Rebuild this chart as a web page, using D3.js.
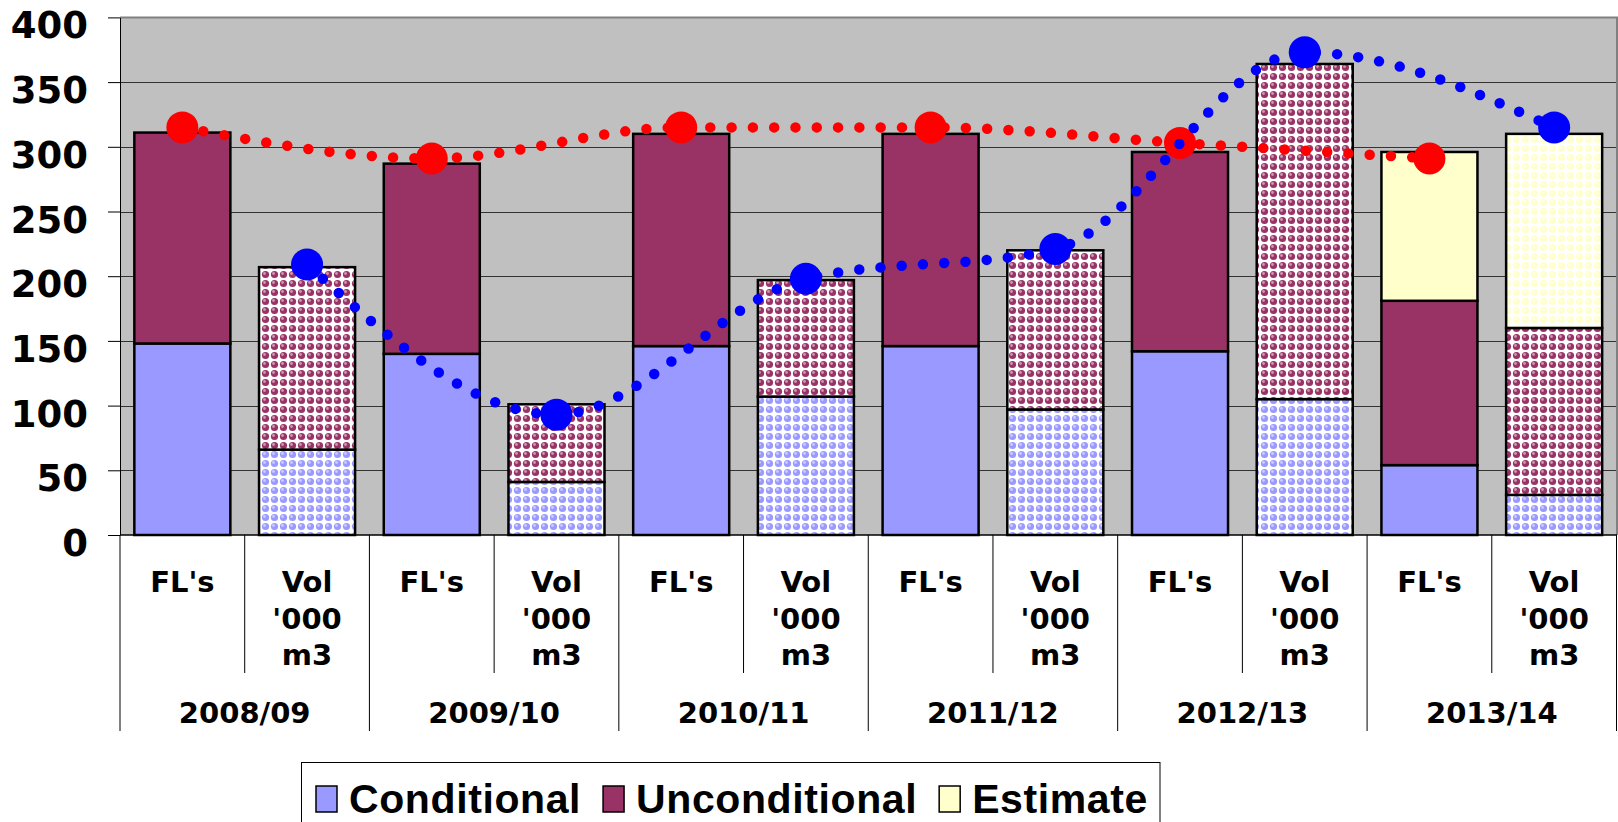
<!DOCTYPE html>
<html>
<head>
<meta charset="utf-8">
<script src="https://cdn.jsdelivr.net/npm/d3@7"></script>
<style>
  body { margin: 0; background: #fff; }
  svg { display: block; }
</style>
</head>
<body>
<div id="chart"></div>
<script>
// data
var years = ["2008/09", "2009/10", "2010/11", "2011/12", "2012/13", "2013/14"];
var measureLabels = [["FL's"], ["Vol", "'000", "m3"]];
var conditional   = [148, 66, 140, 41, 146, 107, 146, 97, 142, 105, 54, 31];
var unconditional = [163, 141, 147, 60, 164, 90, 164, 123, 154, 259, 127, 129];
var estimate      = [0, 0, 0, 0, 0, 0, 0, 0, 0, 0, 115, 150];
var flsLine = [315, 291, 315, 315, 303, 291];
var volLine = [209, 93, 198, 221, 373, 315];
var yTicks = [0, 50, 100, 150, 200, 250, 300, 350, 400];
var seriesNames = ["Conditional", "Unconditional", "Estimate"];
var seriesColors = ["#9999FF", "#993366", "#FFFFCC"];

var width = 1618;
var height = 822;
var plot = {left: 120, right: 1617, top: 17.4, bottom: 535};

var svg = d3.select("#chart")
    .append("svg")
    .attr("width", width)
    .attr("height", height);

var defs = svg.append("defs");

// spotted pattern used for the volume bars
function makePattern(id, color) {
  var p = defs.append("pattern")
      .attr("id", id)
      .attr("patternUnits", "userSpaceOnUse")
      .attr("width", 9)
      .attr("height", 9);
  p.append("rect").attr("width", 9).attr("height", 9).attr("fill", "#fff");
  p.append("circle").attr("cx", 4.5).attr("cy", 4.5).attr("r", 3.6).attr("fill", color);
  p.append("circle").attr("cx", 3.5).attr("cy", 3.5).attr("r", 1.4)
      .attr("fill", d3.interpolateRgb(color, "#fff")(0.5));
}
seriesColors.forEach(function(c, i) { makePattern("pat" + i, c); });

// one row per bar
var rows = conditional.map(function(d, i) {
  return {idx: i, Conditional: d, Unconditional: unconditional[i], Estimate: estimate[i]};
});

var x = d3.scaleBand()
    .domain(d3.range(rows.length))
    .range([plot.left, 1616.5])
    .paddingInner(0.23)
    .paddingOuter(0.115);

var y = d3.scaleLinear()
    .domain([0, 400])
    .range([plot.bottom, plot.top]);

// plot background
svg.append("rect")
    .attr("x", plot.left)
    .attr("y", plot.top)
    .attr("width", plot.right - plot.left)
    .attr("height", plot.bottom - plot.top)
    .attr("fill", "#C0C0C0");

// gridlines
svg.append("g")
  .selectAll("line")
  .data(yTicks.filter(function(t) { return t > 0 && t < 400; }))
  .enter().append("line")
    .attr("x1", plot.left)
    .attr("x2", plot.right)
    .attr("y1", function(d) { return Math.round(y(d)) + 0.5; })
    .attr("y2", function(d) { return Math.round(y(d)) + 0.5; })
    .attr("stroke", "#333")
    .attr("stroke-width", 1);

// plot border top / right
svg.append("path")
    .attr("d", "M" + plot.left + "," + plot.top + "H" + plot.right + "V" + plot.bottom)
    .attr("fill", "none")
    .attr("stroke", "#808080")
    .attr("stroke-width", 2);

// stacked bars
var stack = d3.stack().keys(seriesNames);
var series = stack(rows);

var serie = svg.append("g").selectAll(".serie")
  .data(series)
  .enter().append("g")
    .attr("class", "serie");

serie.selectAll("rect")
  .data(function(d, si) { return d.map(function(p) { p.si = si; return p; }); })
  .enter().filter(function(d) { return d[1] - d[0] > 0; })
  .append("rect")
    .attr("x", function(d) { return x(d.data.idx); })
    .attr("y", function(d) { return y(d[1]); })
    .attr("width", x.bandwidth())
    .attr("height", function(d) { return y(d[0]) - y(d[1]); })
    .attr("fill", function(d) {
      return d.data.idx % 2 === 1 ? "url(#pat" + d.si + ")" : seriesColors[d.si];
    })
    .attr("stroke", "#000")
    .attr("stroke-width", 2.5);

// y axis
var yAxis = svg.append("g")
    .attr("transform", "translate(" + plot.left + ",0)")
    .call(d3.axisLeft(y).tickValues(yTicks).tickSize(12).tickSizeOuter(0).tickPadding(20));
yAxis.select(".domain").attr("stroke", "#000");
yAxis.selectAll(".tick line").attr("stroke", "#000");
yAxis.selectAll(".tick text")
    .attr("dy", 20.5)
    .attr("fill", "#000")
    .style("font-family", "'DejaVu Sans', sans-serif")
    .style("font-weight", "bold")
    .style("font-size", "37px");

// bottom axis line
svg.append("line")
    .attr("x1", plot.left)
    .attr("x2", plot.right)
    .attr("y1", plot.bottom)
    .attr("y2", plot.bottom)
    .attr("stroke", "#000")
    .attr("stroke-width", 1.5);

// category separators: short between measures, long between years
var step = x.step();
svg.append("g")
  .selectAll("line")
  .data(d3.range(rows.length + 1))
  .enter().append("line")
    .attr("x1", function(k) { return plot.left + k * step; })
    .attr("x2", function(k) { return plot.left + k * step; })
    .attr("y1", plot.bottom)
    .attr("y2", function(k) { return k % 2 === 0 ? 731 : 673; })
    .attr("stroke", "#000")
    .attr("stroke-width", 1);

var labelFont = "'DejaVu Sans', sans-serif";

// measure labels
var catLabels = svg.append("g");
rows.forEach(function(r) {
  var lines = measureLabels[r.idx % 2];
  var t = catLabels.append("text")
      .attr("text-anchor", "middle")
      .style("font-family", labelFont)
      .style("font-weight", "bold")
      .style("font-size", "29px");
  lines.forEach(function(l, li) {
    t.append("tspan")
        .attr("x", x(r.idx) + x.bandwidth() / 2)
        .attr("y", 592 + li * 36.5)
        .text(l);
  });
});

// year labels
svg.append("g")
  .selectAll("text")
  .data(years)
  .enter().append("text")
    .attr("x", function(d, i) { return plot.left + (2 * i + 1) * step; })
    .attr("y", 723)
    .attr("text-anchor", "middle")
    .style("font-family", labelFont)
    .style("font-weight", "bold")
    .style("font-size", "29px")
    .text(function(d) { return d; });

// dotted smoothed lines with big markers
function drawLine(vals, offset, color) {
  var pts = vals.map(function(v, i) {
    return [x(2 * i + offset) + x.bandwidth() / 2, y(v)];
  });
  svg.append("path")
      .attr("d", d3.line().curve(d3.curveMonotoneX)(pts))
      .attr("fill", "none")
      .attr("stroke", color)
      .attr("stroke-width", 10.5)
      .attr("stroke-linecap", "round")
      .attr("stroke-dasharray", "0 21.3");
  svg.append("g")
    .selectAll("circle")
    .data(pts)
    .enter().append("circle")
      .attr("cx", function(d) { return d[0]; })
      .attr("cy", function(d) { return d[1]; })
      .attr("r", 16)
      .attr("fill", color);
}
drawLine(flsLine, 0, "#FF0000");
drawLine(volLine, 1, "#0000FF");

// legend
var legend = svg.append("g");
legend.append("rect")
    .attr("x", 301.5)
    .attr("y", 762.5)
    .attr("width", 858.5)
    .attr("height", 80)
    .attr("fill", "#fff")
    .attr("stroke", "#000")
    .attr("stroke-width", 1);

var lx = 316;
seriesNames.forEach(function(name, i) {
  legend.append("rect")
      .attr("x", lx)
      .attr("y", 786)
      .attr("width", 21)
      .attr("height", 26)
      .attr("fill", seriesColors[i])
      .attr("stroke", "#000")
      .attr("stroke-width", 1.5);
  var t = legend.append("text")
      .attr("x", lx + 33)
      .attr("y", 813)
      .style("font-family", "'Liberation Sans', Arial, sans-serif")
      .style("font-weight", "bold")
      .style("font-size", "41px")
      .style("letter-spacing", "0.6px")
      .text(name);
  lx = lx + 33 + t.node().getComputedTextLength() + 22;
});
</script>
</body>
</html>
